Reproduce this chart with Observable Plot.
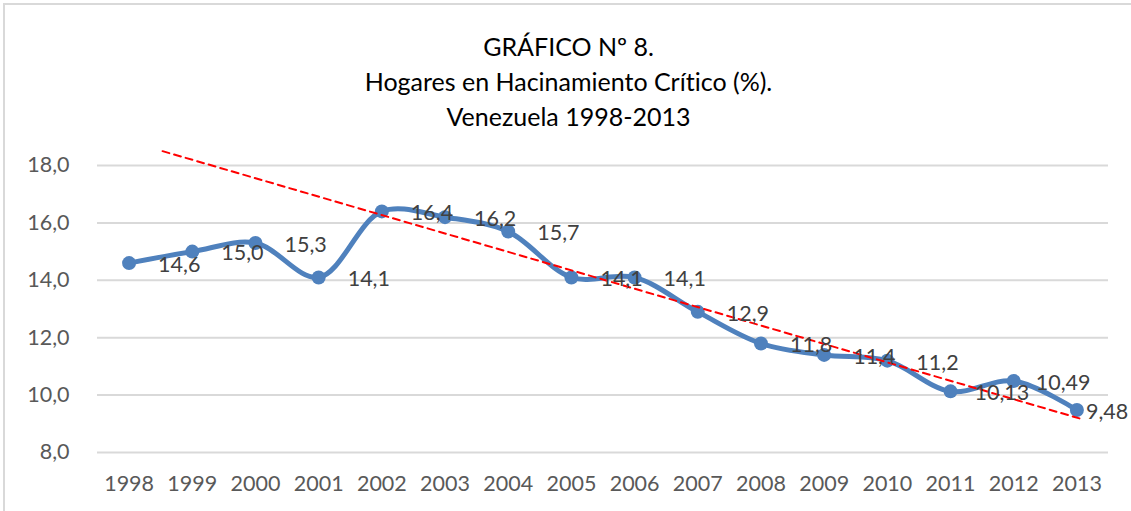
<!DOCTYPE html>
<html>
<head>
<meta charset="utf-8">
<script src="https://cdn.jsdelivr.net/npm/d3@7"></script>
<script src="https://cdn.jsdelivr.net/npm/@observablehq/plot@0.6"></script>
<style>
  html, body { margin: 0; padding: 0; background: #fff; }
  body { width: 1131px; height: 511px; overflow: hidden; position: relative; font-family: Lato, "Open Sans", sans-serif; font-variant-ligatures: none; }
  #frame { position: absolute; left: 3px; top: 3px; width: 1200px; height: 600px; border-top: 2px solid #d9d9d9; border-left: 2px solid #d9d9d9; pointer-events: none; }
  #title { position: absolute; left: 3px; top: 0; width: 1131px; height: 140px; box-sizing: border-box; padding-top: 29px; text-align: center; font-size: 25px; line-height: 35px; color: #000; }
  #chart { position: absolute; left: 0; top: 140px; }
  #chart svg text { font-variant-ligatures: none; }
</style>
</head>
<body>
<div id="title"></div>
<div id="chart"></div>
<div id="frame"></div>
<script>
const titleLines = ["GRÁFICO Nº 8.", "Hogares en Hacinamiento Crítico (%).", "Venezuela 1998-2013"];
const years = [1998, 1999, 2000, 2001, 2002, 2003, 2004, 2005, 2006, 2007, 2008, 2009, 2010, 2011, 2012, 2013];
const values = [14.6, 15.0, 15.3, 14.1, 16.4, 16.2, 15.7, 14.1, 14.1, 12.9, 11.8, 11.4, 11.2, 10.13, 10.49, 9.48];
const valueLabels = ["14,6", "15,0", "15,3", "14,1", "16,4", "16,2", "15,7", "14,1", "14,1", "12,9", "11,8", "11,4", "11,2", "10,13", "10,49", "9,48"];
const yTicks = [8, 10, 12, 14, 16, 18];
const trendYears = [1998.53, 2013.1];
const trendValues = [18.5, 9.15];

document.getElementById("title").innerHTML = titleLines.map(t => `<div>${t}</div>`).join("");

const data = years.map((year, i) => ({year, value: values[i], label: valueLabels[i], i}));
const trend = trendYears.map((year, i) => ({year, value: trendValues[i]}));
const n = data.length;
const labelDx = d => d.i === n - 1 ? 9 : d.i === n - 2 ? 22 : d.i === n - 3 ? 24 : 29;
const fmtY = d => d.toFixed(1).replace(".", ",");
const fs = 21.5;

const chart = Plot.plot({
  width: 1131,
  height: 371,
  marginLeft: 97,
  marginRight: 23,
  marginTop: 25,
  marginBottom: 59,
  style: {fontFamily: "Lato, 'Open Sans', sans-serif", fontSize: fs + "px", background: "transparent", overflow: "visible"},
  x: {domain: [1997.5, 2013.5]},
  y: {domain: [8, 18]},
  marks: [
    Plot.gridY(yTicks, {stroke: "#d9d9d9", strokeOpacity: 1, strokeWidth: 2}),
    Plot.axisY(yTicks, {tickSize: 0, tickPadding: 28, tickFormat: fmtY, fill: "#595959", fontSize: fs, label: null}),
    Plot.axisX(years, {tickSize: 0, tickPadding: 23, tickFormat: d => String(d), fill: "#595959", fontSize: fs, label: null}),
    Plot.line(data, {x: "year", y: "value", stroke: "#4f81bd", strokeWidth: 5, curve: "catmull-rom"}),
    Plot.dot(data, {x: "year", y: "value", r: 7, fill: "#4f81bd", stroke: "none"}),
    Plot.line(trend, {x: "year", y: "value", stroke: "#ff0000", strokeWidth: 2, strokeDasharray: "7,5"}),
    ...data.map(d => Plot.text([d], {x: "year", y: "value", text: "label", textAnchor: "start", dx: labelDx(d), dy: 2, fill: "#404040", fontSize: fs}))
  ]
});
document.getElementById("chart").appendChild(chart);
</script>
</body>
</html>
